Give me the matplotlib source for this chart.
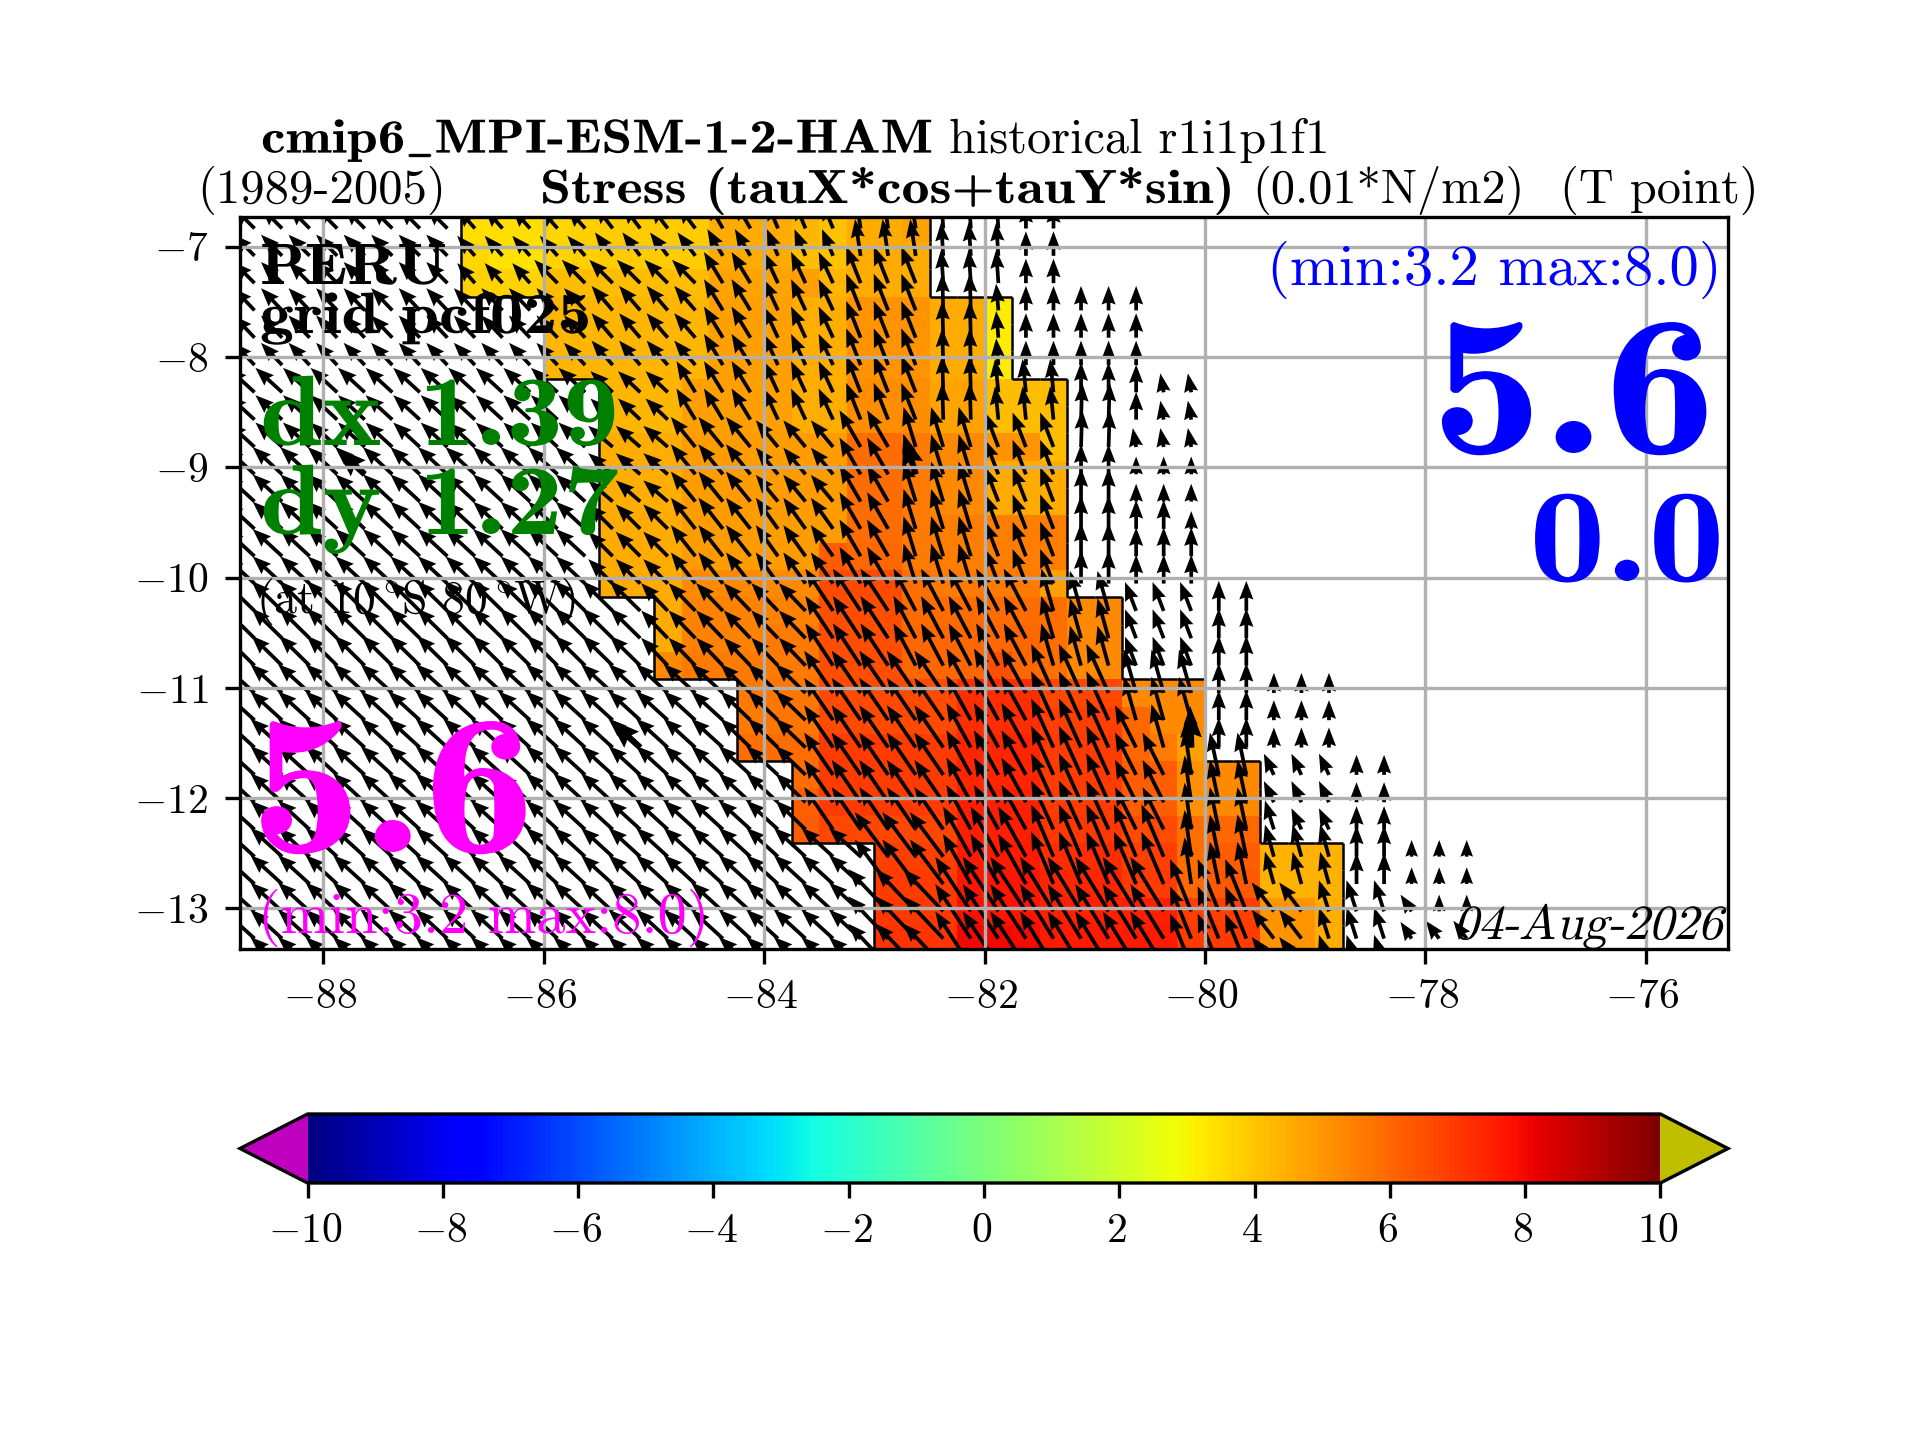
import numpy as np
import matplotlib
matplotlib.use('Agg')
import matplotlib.pyplot as plt
import matplotlib.patheffects as pe
from matplotlib.collections import LineCollection
from matplotlib.transforms import Affine2D, ScaledTranslation

plt.rcParams['font.family'] = ['cmr10', 'DejaVu Sans']
plt.rcParams['mathtext.fontset'] = 'cm'
plt.rcParams['axes.formatter.use_mathtext'] = True
plt.rcParams['axes.unicode_minus'] = True

# grille 0.25 deg (bords des mailles)
lon_edges = [-88.75, -88.5, -88.25, -88.0, -87.75, -87.5, -87.25, -87.0, -86.75, -86.5, -86.25,
             -86.0, -85.75, -85.5, -85.25, -85.0, -84.75, -84.5, -84.25, -84.0, -83.75, -83.5,
             -83.25, -83.0, -82.75, -82.5, -82.25, -82.0, -81.75, -81.5, -81.25, -81.0, -80.75,
             -80.5, -80.25, -80.0, -79.75, -79.5, -79.25, -79.0, -78.75, -78.5, -78.25, -78.0,
             -77.75, -77.5, -77.25, -77.0, -76.75, -76.5, -76.25, -76.0, -75.75, -75.5, -75.25]
lat_edges = [-6.71, -6.958, -7.206, -7.453, -7.701, -7.949, -8.197, -8.444, -8.692, -8.94,
             -9.188, -9.435, -9.683, -9.931, -10.18, -10.427, -10.675, -10.923, -11.171, -11.418,
             -11.666, -11.914, -12.162, -12.408, -12.656, -12.904, -13.152, -13.399]
lat_tails = [-6.834, -7.082, -7.33, -7.577, -7.825, -8.073, -8.32, -8.568, -8.816, -9.064,
             -9.311, -9.559, -9.807, -10.055, -10.303, -10.551, -10.799, -11.047, -11.294, -11.542,
             -11.79, -12.038, -12.285, -12.532, -12.78, -13.028, -13.275, -13.523]

# premiere colonne de l'ocean pour chaque ligne (17 mailles par ligne)
fld_start = [8, 8, 8, 11, 11, 11, 13, 13, 13, 13, 13, 13, 13, 13,
             15, 15, 15, 18, 18, 18, 20, 20, 20, 23, 23, 23, 23]
fld_rows = [
    [3.5, 3.5, 3.5, 3.6, 3.8, 3.9, 3.9, 3.9, 3.9, 4.6, 4.6, 4.6, 4.3, 4.1, 4.6, 4.6, 4.7],
    [3.6, 3.4, 3.4, 3.7, 3.8, 3.9, 3.9, 3.9, 3.9, 4.6, 4.6, 4.6, 4.2, 4.1, 4.6, 4.6, 4.6],
    [3.7, 3.7, 3.7, 4.2, 4.2, 4.2, 4.2, 4.2, 4.2, 4.7, 4.7, 4.7, 4.8, 4.3, 4.6, 4.6, 4.6],
    [4.3, 4.3, 4.3, 4.3, 4.3, 4.3, 4.8, 4.8, 4.8, 4.5, 4.5, 5.0, 5.0, 5.0, 4.6, 4.6, 3.2],
    [4.3, 4.3, 4.3, 4.3, 4.3, 4.3, 4.8, 4.8, 4.8, 4.5, 4.5, 5.0, 5.0, 5.0, 4.6, 4.6, 3.2],
    [4.3, 4.3, 4.3, 4.3, 4.3, 4.3, 4.8, 4.8, 4.8, 4.5, 4.5, 5.0, 5.0, 5.0, 4.6, 4.6, 3.2],
    [4.3, 4.3, 4.3, 4.8, 4.8, 4.8, 4.8, 4.5, 4.5, 5.2, 5.2, 5.2, 4.7, 4.7, 4.2, 4.2, 4.2],
    [4.3, 4.3, 4.3, 4.8, 4.8, 4.8, 4.8, 4.5, 4.5, 5.2, 5.2, 5.2, 4.7, 4.7, 4.2, 4.2, 4.2],
    [4.5, 4.5, 4.5, 4.9, 4.9, 4.9, 4.9, 4.9, 4.9, 5.9, 5.9, 5.6, 5.3, 5.3, 5.0, 5.0, 4.2],
    [4.5, 4.5, 4.5, 4.9, 4.9, 4.9, 4.9, 4.9, 4.9, 5.9, 5.9, 5.6, 5.3, 5.3, 4.6, 4.6, 4.6],
    [4.5, 4.5, 4.5, 4.9, 4.9, 4.9, 4.9, 4.9, 4.9, 5.9, 5.9, 5.6, 5.3, 5.3, 4.6, 4.6, 4.6],
    [4.6, 4.6, 4.6, 4.9, 4.9, 4.9, 4.9, 4.9, 4.9, 5.9, 5.9, 5.6, 5.5, 5.5, 5.5, 5.5, 5.5],
    [4.6, 4.6, 4.6, 4.9, 4.9, 4.9, 4.9, 4.9, 6.2, 6.0, 6.0, 5.6, 5.5, 5.5, 5.5, 5.5, 5.5],
    [4.6, 4.6, 4.6, 5.3, 5.3, 5.3, 5.3, 5.3, 6.6, 6.6, 6.6, 5.8, 5.6, 5.6, 5.6, 5.6, 4.8],
    [4.6, 5.4, 5.4, 5.4, 5.4, 5.4, 6.5, 6.5, 6.5, 5.9, 5.9, 5.9, 5.9, 5.9, 5.8, 5.3, 5.3],
    [4.6, 5.4, 5.4, 5.4, 5.6, 5.6, 6.5, 6.5, 6.5, 6.0, 6.0, 6.0, 6.0, 6.0, 5.8, 5.3, 5.3],
    [5.3, 5.6, 5.6, 5.6, 5.6, 5.6, 6.5, 6.5, 6.5, 6.0, 6.0, 6.0, 6.5, 6.0, 5.8, 5.3, 5.3],
    [5.6, 5.7, 5.7, 6.6, 6.6, 6.6, 6.6, 6.6, 7.2, 7.2, 7.2, 6.7, 6.7, 6.7, 5.3, 5.3, 5.3],
    [5.6, 5.7, 5.7, 6.6, 6.6, 6.6, 6.6, 6.6, 7.2, 7.2, 7.2, 6.8, 6.8, 6.8, 6.0, 5.3, 5.3],
    [5.8, 5.9, 5.9, 6.9, 6.9, 6.9, 6.9, 6.9, 7.4, 7.4, 7.4, 6.9, 6.9, 6.9, 6.0, 5.6, 4.8],
    [5.9, 6.9, 6.9, 6.9, 6.9, 6.9, 7.4, 7.4, 7.4, 6.9, 6.9, 6.9, 6.2, 6.2, 5.1, 5.3, 5.3],
    [6.2, 6.9, 6.9, 6.9, 6.9, 6.9, 7.5, 7.5, 7.5, 6.9, 6.9, 6.9, 6.2, 6.2, 5.1, 5.3, 5.3],
    [6.2, 6.7, 6.7, 6.7, 6.7, 6.7, 7.5, 7.5, 7.5, 7.0, 7.0, 7.0, 6.6, 6.6, 5.8, 6.0, 6.0],
    [6.8, 6.8, 6.8, 7.6, 7.6, 7.6, 7.2, 7.2, 7.2, 6.8, 6.8, 5.8, 6.2, 6.2, 4.4, 4.4, 4.4],
    [6.9, 6.9, 6.9, 7.7, 7.7, 7.7, 7.35, 7.35, 7.35, 6.9, 6.9, 6.0, 6.25, 6.25, 4.4, 4.4, 4.4],
    [7.0, 7.0, 7.0, 7.85, 7.8, 7.8, 7.5, 7.5, 7.5, 7.5, 7.5, 6.8, 6.85, 6.85, 5.0, 5.0, 4.5],
    [7.05, 7.05, 7.05, 8.0, 8.0, 7.9, 7.6, 7.6, 7.6, 7.6, 7.6, 6.9, 6.9, 6.9, 5.0, 5.0, 4.5],
]

# vecteurs (tauX, tauY), une lettre par valeur
vec = {
    'a': (-1.9, 1.9), 'b': (-1.9, 2.0), 'c': (-1.6, 1.8), 'd': (-2.4, 2.2), 'e': (-2.65, 2.45),
    'f': (-2.75, 2.7), 'g': (-2.85, 2.6), 'h': (-1.6, 2.1), 'i': (-2.1, 2.1), 'j': (-1.9, 2.2),
    'k': (-2.0, 1.9), 'l': (-2.2, 1.9), 'm': (-2.2, 2.2), 'n': (-1.4, 2.4), 'o': (-1.7, 2.8),
    'p': (-2.2, 2.7), 'q': (-2.2, 2.8), 'r': (-1.0, 2.4), 's': (-1.3, 2.8), 't': (-2.0, 2.4),
    'u': (-2.0, 2.8), 'v': (-0.5, 3.3), 'w': (-1.3, 3.3), 'x': (-1.9, 3.3), 'y': (-1.1, 3.6),
    'z': (-0.2, 3.0), 'A': (-0.1, 3.3), 'B': (-0.2, 2.4), 'C': (-0.3, 3.0), 'D': (0.0, 2.2),
    'E': (-1.2, 3.1), 'F': (0.0, 2.7), 'G': (0.1, 3.3), 'H': (0.0, 3.0), 'I': (0.0, 2.5),
    'J': (-0.3, 1.7), 'K': (0.0, 1.6), 'L': (0.0, 2.6), 'M': (-2.4, 2.5), 'N': (-2.5, 3.8),
    'O': (-2.0, 3.8), 'P': (-1.1, 3.8), 'Q': (-1.0, 3.6), 'R': (-1.0, 2.6), 'S': (-2.7, 2.6),
    'T': (-2.6, 3.8), 'U': (-2.2, 4.0), 'V': (-2.0, 4.4), 'W': (-1.9, 3.8), 'X': (-1.1, 3.9),
    'Y': (-0.1, 3.7), 'Z': (-0.6, 4.2), '0': (-0.8, 3.8), '1': (-3.0, 4.0), '2': (-2.5, 4.5),
    '3': (-2.0, 4.7), '4': (-3.6, 3.8), '5': (-3.2, 4.9), '6': (-3.0, 4.9), '7': (-1.9, 4.7),
    '8': (0.0, 1.8), '9': (-0.9, 1.9), '!': (-0.8, 2.6), '@': (-0.8, 2.9), '#': (-2.0, 2.6),
    '$': (-0.9, 2.8), '%': (0.0, 2.1), '^': (0.0, 2.8), '&': (0.0, 1.5), '*': (-1.0, 1.5),
    '+': (-1.2, 1.6),
}
vec_rows = [
    'a'*8 + 'c'*5 + 'h'*4 + 'n'*2 + 'r'*3 + 'v'*3 + 'z'*3 + 'D'*2 + '.'*15,
    'a'*8 + 'c'*5 + 'h'*4 + 'n'*2 + 'r'*3 + 'v'*3 + 'z'*3 + 'D'*2 + '.'*15,
    'a'*8 + 'c'*3 + 'i'*6 + 'o'*2 + 's'*3 + 'w'*3 + 'z'*3 + 'D'*2 + '.'*15,
    'b'*13 + 'j'*4 + 'o'*2 + 's'*3 + 'w'*3 + 'A'*2 + 'B' + 'D'*5 + '.'*12,
    'b'*13 + 'j'*4 + 'o'*2 + 's'*3 + 'w'*3 + 'A'*2 + 'B' + 'D'*5 + '.'*12,
    'b'*13 + 'j'*4 + 'o'*2 + 's'*3 + 'w'*3 + 'A'*2 + 'B' + 'D'*5 + '.'*12,
    'd'*13 + 'k'*3 + 'o'*3 + 's'*3 + 'w'*3 + 'A'*2 + 'C'*3 + 'F'*2 + 'I' + 'J'*2 + '.'*10,
    'd'*13 + 'k'*3 + 'o'*3 + 's'*3 + 'w'*3 + 'A'*2 + 'C'*3 + 'G'*2 + 'I' + 'J'*2 + '.'*10,
    'd'*13 + 'l'*3 + 'p'*3 + 't'*3 + 'x'*2 + 'y'*3 + 'E'*3 + 'G'*2 + 'J'*3 + '.'*10,
    'e'*13 + 'l'*3 + 'p'*3 + 't'*3 + 'x'*2 + 'y'*3 + 'E'*3 + 'F'*2 + 'K'*3 + '.'*10,
    'e'*13 + 'l'*3 + 'p'*3 + 't'*3 + 'x'*2 + 'y'*3 + 'E'*3 + 'H'*2 + 'K'*3 + '.'*10,
    'e'*13 + 'm'*3 + 'q'*3 + 'u'*3 + 'x'*2 + 'y'*3 + 'E'*3 + 'H'*2 + 'L'*2 + 'K' + '.'*10,
    'e'*13 + 'm'*3 + 'q'*3 + 'u'*3 + 'x'*2 + 'y'*3 + 'E'*3 + 'H'*2 + 'L'*3 + '.'*10,
    'e'*13 + 'm'*3 + 'q'*3 + 'u'*3 + 'x'*2 + 'y'*3 + 'E'*3 + 'H'*2 + 'L'*3 + '.'*10,
    'f'*15 + 'M'*6 + 'N'*3 + 'O'*5 + 'P' + 'Q'*2 + 'R'*3 + 'F'*2 + '.'*8,
    'f'*15 + 'M'*6 + 'N'*3 + 'O'*5 + 'P' + 'Q'*2 + 'R'*3 + 'F'*2 + '.'*8,
    'f'*15 + 'M'*6 + 'N'*3 + 'O'*5 + 'P' + 'Q'*2 + 'R'*3 + 'F'*2 + '.'*8,
    'g'*18 + 'S'*3 + 'T'*5 + 'U'*3 + 'V'*3 + 'X'*3 + 'F'*2 + '8'*3 + '.'*5,
    'g'*18 + 'S'*3 + 'T'*5 + 'U'*3 + 'V'*3 + 'X'*3 + 'F'*2 + '8'*3 + '.'*5,
    'g'*18 + 'S'*3 + 'T'*5 + 'U'*3 + 'V'*3 + 'W' + 'X' + 'Y' + 'F'*2 + '8'*3 + '.'*5,
    'g'*20 + 'S' + 'T'*5 + 'U'*3 + 'V'*3 + 'W'*2 + 'Z' + '0'*2 + '9'*3 + '8'*2 + '.'*3,
    'g'*20 + 'S' + 'T'*5 + 'U'*3 + 'V'*3 + 'W'*2 + 'Z' + '0'*2 + '9'*3 + '8'*2 + '.'*3,
    'g'*20 + 'S' + 'T'*5 + 'U'*3 + 'V'*3 + 'W'*2 + 'Z' + '0'*2 + '!' + '9'*2 + '%'*2 + '.'*3,
    'g'*23 + '1'*3 + '2'*3 + '3'*5 + 'Z' + '0'*2 + '@'*3 + '^'*2 + '&'*3,
    'g'*23 + '1'*3 + '2'*3 + '3'*5 + 'Z' + '0'*2 + '@'*3 + '^'*2 + '&'*3,
    'g'*23 + '4'*3 + '5'*3 + '6'*5 + '7'*3 + '#'*2 + '$'*3 + '*' + '&'*2,
    'g'*23 + '4'*3 + '5'*3 + '6'*5 + '7'*3 + '#'*2 + '$'*3 + '*' + '+'*2,
    'g'*23 + '4'*3 + '5'*3 + '6'*5 + '7'*3 + '#'*2 + '$'*3 + '.'*3,
]
# fleches de reference, plus grasses
bold_cols = [4, 24, 14, 34]
bold_rows = [9, 9, 19, 19]

x_ticks = [-88, -86, -84, -82, -80, -78, -76]
y_ticks = [-7, -8, -9, -10, -11, -12, -13]
cb_ticks = [-10, -8, -6, -4, -2, 0, 2, 4, 6, 8, 10]

lon_edges = np.array(lon_edges)
lat_edges = np.array(lat_edges)
lon_mid = 0.5 * (lon_edges[:-1] + lon_edges[1:])

fld = np.full((27, 54), np.nan)
for j, (c0, vals) in enumerate(zip(fld_start, fld_rows)):
    fld[j, c0:c0 + len(vals)] = vals

xq, yq, uq, vq = [], [], [], []
for j, row in enumerate(vec_rows):
    for i, key in enumerate(row):
        if key == '.':
            continue
        xq.append(lon_mid[i])
        yq.append(lat_tails[j])
        uq.append(vec[key][0])
        vq.append(vec[key][1])

fig = plt.figure(figsize=(6.4, 4.8), dpi=300)
ax = fig.add_axes([0.125, 0.341, 0.775, 0.508])

cmap = plt.get_cmap('jet').with_extremes(under='m', over='y')
pm = ax.pcolormesh(lon_edges, lat_edges, np.ma.masked_invalid(fld), cmap=cmap, vmin=-10, vmax=10)

# contour noir du masque ocean
wet = np.isfinite(fld)
segs = []
for j in range(27):
    for i in range(54):
        if not wet[j, i]:
            continue
        if i == 0 or not wet[j, i - 1]:
            segs.append([(lon_edges[i], lat_edges[j]), (lon_edges[i], lat_edges[j + 1])])
        if i == 53 or not wet[j, i + 1]:
            segs.append([(lon_edges[i + 1], lat_edges[j]), (lon_edges[i + 1], lat_edges[j + 1])])
        if j == 0 or not wet[j - 1, i]:
            segs.append([(lon_edges[i], lat_edges[j]), (lon_edges[i + 1], lat_edges[j])])
        if j == 26 or not wet[j + 1, i]:
            segs.append([(lon_edges[i], lat_edges[j + 1]), (lon_edges[i + 1], lat_edges[j + 1])])
ax.add_collection(LineCollection(segs, colors='k', linewidths=0.6, zorder=1.2))

ax.quiver(xq, yq, uq, vq, angles='uv', scale=27, scale_units='inches', units='width',
          width=0.0025, headwidth=3.8, headlength=5, headaxislength=4.5, zorder=1.3)
bx = [lon_mid[i] for i in bold_cols]
by = [lat_tails[j] for j in bold_rows]
bu = [vec[vec_rows[j][i]][0] for i, j in zip(bold_cols, bold_rows)]
bv = [vec[vec_rows[j][i]][1] for i, j in zip(bold_cols, bold_rows)]
ax.quiver(bx, by, bu, bv, angles='uv', scale=27, scale_units='inches', units='width',
          width=0.0042, headwidth=3.5, headlength=5, headaxislength=4.5, zorder=1.3)

ax.set_xlim(-88.757, -75.254)
ax.set_ylim(-13.369, -6.734)
ax.set_xticks(x_ticks)
ax.set_yticks(y_ticks)
ax.tick_params(axis='y', pad=4.1)
ax.grid(True)


class Stretch(pe.AbstractPathEffect):
    # cmbx n'existe pas ici : on elargit cmb10 autour du point d'ancrage
    def __init__(self, x0, y0, sx=1.0, slant=0.0):
        super().__init__()
        self.x0, self.y0, self.sx, self.slant = x0, y0, sx, slant

    def draw_path(self, renderer, gc, tpath, affine, rgbFace=None):
        tr = Affine2D().translate(-self.x0, -self.y0)
        tr = tr + Affine2D([[self.sx, self.slant, 0], [0, 1, 0], [0, 0, 1]])
        tr = tr + Affine2D().translate(self.x0, self.y0)
        renderer.draw_path(gc, tpath, affine + tr, rgbFace)


def put(x, y, s, size, family='cmr10', color='k', ha='left', sx=1.0, slant=0.0):
    t = fig.text(x / 1920, 1 - y / 1440, s, fontsize=size, color=color, ha=ha, va='baseline',
                 family=[family, 'DejaVu Sans'], zorder=5)
    if sx != 1.0 or slant != 0.0:
        t.set_path_effects([Stretch(x, 1440 - y, sx, slant)])


put(261, 152.7, r'cmip6$\_$MPI-ESM-1-2-HAM', 11.5, 'cmb10', sx=1.155)
put(949, 152.7, 'historical r1i1p1f1', 11.6)
put(197, 203, '(1989-2005)', 11.7)
put(540, 203, 'Stress (tauX*cos+tauY*sin)', 11.5, 'cmb10', sx=1.165)
put(1252, 203, '(0.01*N/m2)', 11.6)
put(1560, 203, '(T point)', 11.6)

put(260, 284, 'PERU', 14, 'cmb10', sx=1.12)
put(260, 333, 'grid pcf025', 14, 'cmb10', sx=1.16)
put(260, 445, 'dx 1.39', 24, 'cmb10', '#008000', sx=1.125)
put(260, 534, 'dy 1.27', 24, 'cmb10', '#008000', sx=1.125)
put(256, 613, r'(at 10$^\circ\!$S 80$^\circ\!$W)', 11)
put(250, 852, '5.6', 48, 'cmb10', '#ff00ff', sx=1.117)
put(258, 933, '(min:3.2 max:8.0)', 14, color='#ff00ff')
put(1722, 285, '(min:3.2 max:8.0)', 14.1, color='b', ha='right')
put(1716, 453, '5.6', 48, 'cmb10', 'b', 'right', sx=1.117)
put(1725, 581, '0.0', 32, 'cmb10', 'b', 'right', sx=1.15)
put(1722, 939, '04-Aug-2026', 11.8, ha='right', slant=0.25)

cax = fig.add_axes([240 / 1920, 1 - 1183 / 1440, 1488 / 1920, 69 / 1440])
cb = fig.colorbar(pm, cax=cax, orientation='horizontal', extend='both', ticks=cb_ticks)

# les etiquettes en x sont un peu a gauche sur la figure d'origine
for lab in ax.get_xticklabels():
    lab.set_transform(lab.get_transform() + ScaledTranslation(-3.6 / 300, 0, fig.dpi_scale_trans))
for lab in cax.get_xticklabels():
    lab.set_transform(lab.get_transform() + ScaledTranslation(-2.5 / 300, 0, fig.dpi_scale_trans))

fig.savefig('out.png', dpi=300)
